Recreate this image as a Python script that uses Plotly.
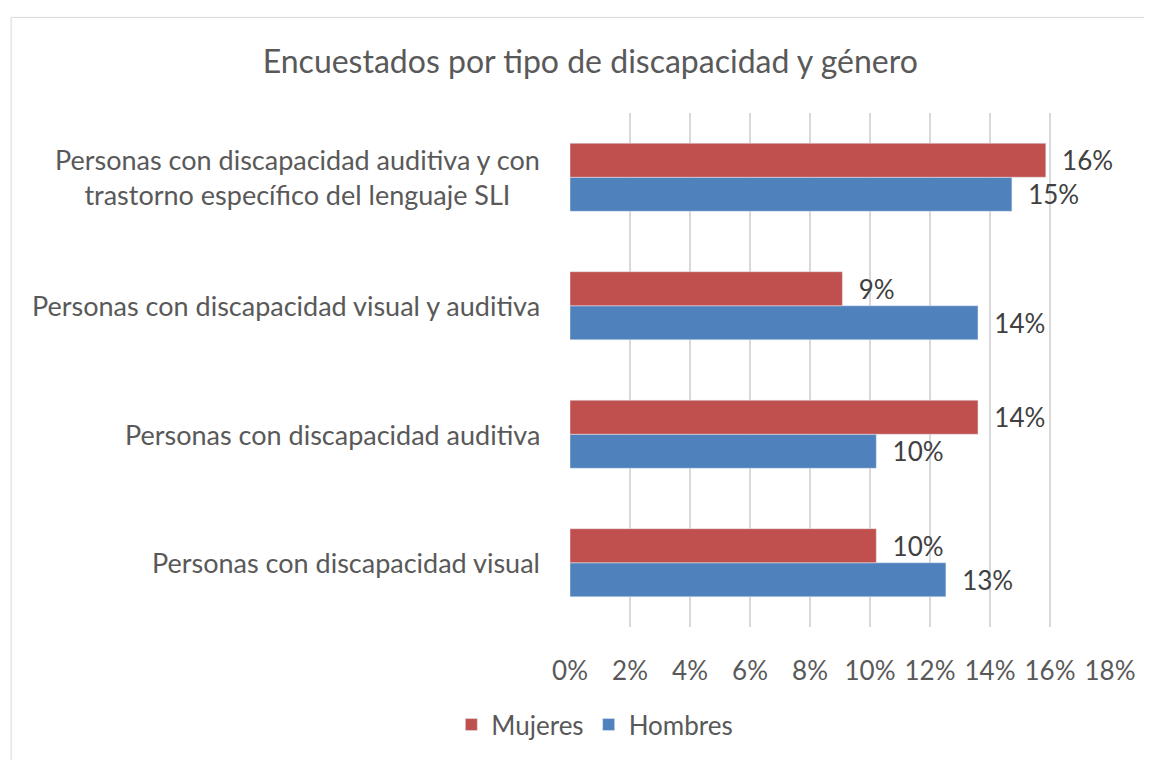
import plotly.graph_objects as go

categorias = [
    "Personas con discapacidad visual",
    "Personas con discapacidad auditiva",
    "Personas con discapacidad visual y auditiva",
    "Personas con discapacidad auditiva y con<br>trastorno específico del lenguaje SLI",
]
mujeres = [0.1021, 0.1360, 0.0908, 0.1586]
hombres = [0.1253, 0.1021, 0.1360, 0.1473]
ticks = [0, 0.02, 0.04, 0.06, 0.08, 0.10, 0.12, 0.14, 0.16, 0.18]

ROJO = "#C0504D"
AZUL = "#4F81BD"
FONT = "Lato"
GRIS = "#595959"
SIZE = 26

fig = go.Figure()
fig.add_trace(go.Bar(
    y=categorias, x=hombres, name="Hombres", orientation="h",
    marker=dict(color=AZUL), texttemplate="  %{x:.0%}", textposition="outside",
    textfont=dict(size=SIZE, color="#404040", family=FONT), cliponaxis=False,
))
fig.add_trace(go.Bar(
    y=categorias, x=mujeres, name="Mujeres", orientation="h",
    marker=dict(color=ROJO), texttemplate="  %{x:.0%}", textposition="outside",
    textfont=dict(size=SIZE, color="#404040", family=FONT), cliponaxis=False,
))

# category labels as annotations so the two-line label is centred
for c in categorias:
    fig.add_annotation(
        x=-0.052, xref="paper", y=c, yref="y", text=c, showarrow=False,
        xanchor="right", align="center",
        font=dict(size=27, color=GRIS, family=FONT),
    )

fig.update_layout(
    width=1144, height=752,
    margin=dict(l=562, r=42, t=105, b=130),
    paper_bgcolor="white", plot_bgcolor="white",
    barmode="group", bargap=0.47, bargroupgap=0,
    font=dict(family=FONT, color=GRIS),
    title=dict(text="Encuestados por tipo de discapacidad y género",
               x=0.509, xanchor="center", y=0.928, yanchor="middle",
               font=dict(size=32, color=GRIS, family=FONT)),
    xaxis=dict(range=[0, 0.18], tickvals=ticks, tickformat=".0%",
               showgrid=True, gridcolor="#D9D9D9", gridwidth=2,
               zeroline=False, showline=False, ticklabelstandoff=26,
               tickfont=dict(size=SIZE, color=GRIS), ticklen=0),
    yaxis=dict(showticklabels=False, showgrid=False, zeroline=False,
               showline=False),
    legend=dict(orientation="h", traceorder="reversed", x=0.046, xanchor="center",
                y=-0.19, yanchor="middle", font=dict(size=SIZE, color=GRIS),
                itemwidth=30),
    showlegend=True,
    shapes=[dict(type="rect", xref="paper", yref="paper",
                 x0=-1.035, x1=1.072, y0=-0.4, y1=1.186,
                 line=dict(color="#D9D9D9", width=1))],
)

fig.write_html("out.html")
